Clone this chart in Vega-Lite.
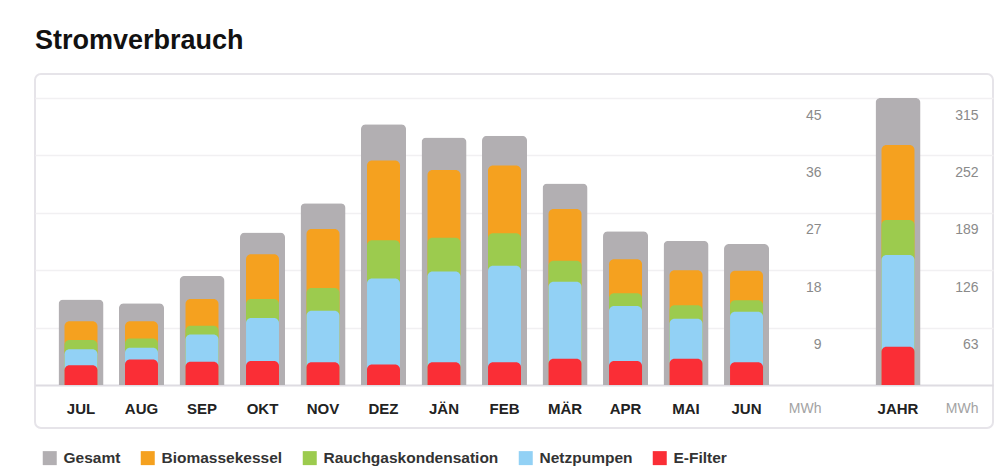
{
  "$schema": "https://vega.github.io/schema/vega-lite/v6.json",
  "width": 958,
  "height": 354,
  "autosize": {"type": "none"},
  "padding": {"left": 35, "top": 74, "right": 13, "bottom": 45},
  "background": "white",
  "config": {
    "font": "Liberation Sans",
    "view": {"stroke": "#e6e4e9", "strokeWidth": 2, "cornerRadius": 6}
  },
  "title": {
    "text": "Stromverbrauch",
    "anchor": "start",
    "frame": "group",
    "font": "Liberation Sans",
    "fontSize": 27,
    "fontWeight": "bold",
    "color": "#111111",
    "baseline": "alphabetic",
    "offset": 25,
    "dy": 27
  },
  "datasets": {
    "monate": [
      {"month": "JUL", "series": "E-Filter", "value": 3.1},
      {"month": "JUL", "series": "Netzpumpen", "value": 2.5},
      {"month": "JUL", "series": "Rauchgaskondensation", "value": 1.45},
      {"month": "JUL", "series": "Biomassekessel", "value": 2.95},
      {"month": "JUL", "series": "Gesamt", "value": 13.4},
      {"month": "AUG", "series": "E-Filter", "value": 4.0},
      {"month": "AUG", "series": "Netzpumpen", "value": 1.85},
      {"month": "AUG", "series": "Rauchgaskondensation", "value": 1.45},
      {"month": "AUG", "series": "Biomassekessel", "value": 2.7},
      {"month": "AUG", "series": "Gesamt", "value": 12.8},
      {"month": "SEP", "series": "E-Filter", "value": 3.65},
      {"month": "SEP", "series": "Netzpumpen", "value": 4.25},
      {"month": "SEP", "series": "Rauchgaskondensation", "value": 1.4},
      {"month": "SEP", "series": "Biomassekessel", "value": 4.2},
      {"month": "SEP", "series": "Gesamt", "value": 17.1},
      {"month": "OKT", "series": "E-Filter", "value": 3.75},
      {"month": "OKT", "series": "Netzpumpen", "value": 6.75},
      {"month": "OKT", "series": "Rauchgaskondensation", "value": 3.0},
      {"month": "OKT", "series": "Biomassekessel", "value": 7.0},
      {"month": "OKT", "series": "Gesamt", "value": 23.9},
      {"month": "NOV", "series": "E-Filter", "value": 3.55},
      {"month": "NOV", "series": "Netzpumpen", "value": 8.1},
      {"month": "NOV", "series": "Rauchgaskondensation", "value": 3.55},
      {"month": "NOV", "series": "Biomassekessel", "value": 9.25},
      {"month": "NOV", "series": "Gesamt", "value": 28.5},
      {"month": "DEZ", "series": "E-Filter", "value": 3.2},
      {"month": "DEZ", "series": "Netzpumpen", "value": 13.5},
      {"month": "DEZ", "series": "Rauchgaskondensation", "value": 6.0},
      {"month": "DEZ", "series": "Biomassekessel", "value": 12.5},
      {"month": "DEZ", "series": "Gesamt", "value": 40.9},
      {"month": "JÄN", "series": "E-Filter", "value": 3.55},
      {"month": "JÄN", "series": "Netzpumpen", "value": 14.25},
      {"month": "JÄN", "series": "Rauchgaskondensation", "value": 5.3},
      {"month": "JÄN", "series": "Biomassekessel", "value": 10.6},
      {"month": "JÄN", "series": "Gesamt", "value": 38.8},
      {"month": "FEB", "series": "E-Filter", "value": 3.55},
      {"month": "FEB", "series": "Netzpumpen", "value": 15.15},
      {"month": "FEB", "series": "Rauchgaskondensation", "value": 5.1},
      {"month": "FEB", "series": "Biomassekessel", "value": 10.6},
      {"month": "FEB", "series": "Gesamt", "value": 39.1},
      {"month": "MÄR", "series": "E-Filter", "value": 4.1},
      {"month": "MÄR", "series": "Netzpumpen", "value": 12.1},
      {"month": "MÄR", "series": "Rauchgaskondensation", "value": 3.3},
      {"month": "MÄR", "series": "Biomassekessel", "value": 8.1},
      {"month": "MÄR", "series": "Gesamt", "value": 31.6},
      {"month": "APR", "series": "E-Filter", "value": 3.75},
      {"month": "APR", "series": "Netzpumpen", "value": 8.65},
      {"month": "APR", "series": "Rauchgaskondensation", "value": 2.0},
      {"month": "APR", "series": "Biomassekessel", "value": 5.3},
      {"month": "APR", "series": "Gesamt", "value": 24.1},
      {"month": "MAI", "series": "E-Filter", "value": 4.1},
      {"month": "MAI", "series": "Netzpumpen", "value": 6.3},
      {"month": "MAI", "series": "Rauchgaskondensation", "value": 2.1},
      {"month": "MAI", "series": "Biomassekessel", "value": 5.5},
      {"month": "MAI", "series": "Gesamt", "value": 22.6},
      {"month": "JUN", "series": "E-Filter", "value": 3.55},
      {"month": "JUN", "series": "Netzpumpen", "value": 7.95},
      {"month": "JUN", "series": "Rauchgaskondensation", "value": 1.8},
      {"month": "JUN", "series": "Biomassekessel", "value": 4.6},
      {"month": "JUN", "series": "Gesamt", "value": 22.1}
    ],
    "jahr": [
      {"month": "JAHR", "series": "E-Filter", "value": 42},
      {"month": "JAHR", "series": "Netzpumpen", "value": 100.7},
      {"month": "JAHR", "series": "Rauchgaskondensation", "value": 38.3},
      {"month": "JAHR", "series": "Biomassekessel", "value": 82.4},
      {"month": "JAHR", "series": "Gesamt", "value": 315}
    ]
  },
  "layer": [
    {
      "data": {"name": "monate"},
      "layer": [
        {
          "transform": [{"filter": "datum.series === 'Gesamt'"}],
          "mark": {"type": "bar", "width": {"band": 0.744}, "cornerRadiusTopLeft": 5, "cornerRadiusTopRight": 5},
          "encoding": {
            "x": {
              "field": "month", "type": "nominal",
              "scale": {"domain": ["JUL","AUG","SEP","OKT","NOV","DEZ","JÄN","FEB","MÄR","APR","MAI","JUN"," ","  "], "range": [0, 958], "paddingInner": 0, "paddingOuter": 0.917, "align": 0.1419},
              "axis": {"orient": "bottom", "offset": -43, "title": null, "ticks": false, "tickSize": 0, "domain": false, "grid": false, "labelAngle": 0, "labelBaseline": "middle", "labelPadding": 23, "labelFont": "Liberation Sans", "labelFontSize": 15, "labelFontWeight": "bold", "labelColor": "#222222"}
            },
            "y": {
              "field": "value", "type": "quantitative",
              "scale": {"domain": [0, 45], "range": [311, 24], "nice": false, "zero": true},
              "axis": {
                "orient": "right", "offset": -172, "values": [0, 9, 18, 27, 36, 45],
                "labelExpr": "datum.value === 0 ? '' : datum.label",
                "labelAlign": "right", "labelBaseline": "middle", "labelOffset": 17, "labelPadding": 0,
                "ticks": false, "tickSize": 0, "domain": false,
                "labelFont": "Liberation Sans", "labelFontSize": 14, "labelColor": "#8a8a8a",
                "grid": true,
                "gridColor": {"condition": {"test": "datum.value === 0", "value": "#dedce2"}, "value": "#f1f0f2"},
                "gridWidth": {"condition": {"test": "datum.value === 0", "value": 2}, "value": 1.5},
                "title": "MWh", "titleAngle": 0, "titleX": 0, "titleY": 334, "titleAlign": "right", "titleBaseline": "middle",
                "titleFont": "Liberation Sans", "titleFontSize": 14, "titleFontWeight": "normal", "titleColor": "#a3a3a3"
              }
            },
            "color": {
              "field": "series", "type": "nominal",
              "scale": {"domain": ["Gesamt","Biomassekessel","Rauchgaskondensation","Netzpumpen","E-Filter"], "range": ["#b2afb2","#f5a11f","#9ccb4e","#92d1f5","#fa2e36"]},
              "legend": {"orient": "none", "legendX": 7, "legendY": 376, "direction": "horizontal", "title": null, "padding": 0, "symbolType": "square", "symbolSize": 196, "symbolStrokeWidth": 0, "symbolOpacity": 1, "labelFont": "Liberation Sans", "labelFontSize": 15.5, "labelFontWeight": "bold", "labelColor": "#333333", "labelOffset": 6, "labelLimit": 400, "columnPadding": 19}
            }
          }
        },
        {
          "transform": [
            {"filter": "datum.series !== 'Gesamt'"},
            {"stack": "value", "groupby": ["month"], "as": ["lo", "hi"]}
          ],
          "layer": [
            {"transform": [{"filter": "datum.series === 'Biomassekessel'"}],
             "mark": {"type": "bar", "width": {"band": 0.545}, "cornerRadiusTopLeft": 5, "cornerRadiusTopRight": 5},
             "encoding": {"x": {"field": "month", "type": "nominal"}, "y": {"field": "hi", "type": "quantitative"}, "y2": {"datum": 0}, "color": {"field": "series", "type": "nominal"}}},
            {"transform": [{"filter": "datum.series === 'Rauchgaskondensation'"}],
             "mark": {"type": "bar", "width": {"band": 0.545}, "cornerRadiusTopLeft": 5, "cornerRadiusTopRight": 5},
             "encoding": {"x": {"field": "month", "type": "nominal"}, "y": {"field": "hi", "type": "quantitative"}, "y2": {"datum": 0}, "color": {"field": "series", "type": "nominal"}}},
            {"transform": [{"filter": "datum.series === 'Netzpumpen'"}],
             "mark": {"type": "bar", "width": {"band": 0.545}, "cornerRadiusTopLeft": 5, "cornerRadiusTopRight": 5},
             "encoding": {"x": {"field": "month", "type": "nominal"}, "y": {"field": "hi", "type": "quantitative"}, "y2": {"datum": 0}, "color": {"field": "series", "type": "nominal"}}},
            {"transform": [{"filter": "datum.series === 'E-Filter'"}],
             "mark": {"type": "bar", "width": {"band": 0.545}, "cornerRadiusTopLeft": 5, "cornerRadiusTopRight": 5},
             "encoding": {"x": {"field": "month", "type": "nominal"}, "y": {"field": "hi", "type": "quantitative"}, "y2": {"datum": 0}, "color": {"field": "series", "type": "nominal"}}}
          ]
        }
      ]
    },
    {
      "data": {"name": "jahr"},
      "layer": [
        {
          "transform": [{"filter": "datum.series === 'Gesamt'"}],
          "mark": {"type": "bar", "width": {"band": 0.744}, "cornerRadiusTopLeft": 5, "cornerRadiusTopRight": 5},
          "encoding": {
            "x": {
              "field": "month", "type": "nominal",
              "scale": {"domain": ["JAHR"], "range": [832.75, 893.25], "paddingInner": 0, "paddingOuter": 0},
              "axis": {"orient": "bottom", "offset": -43, "title": null, "ticks": false, "tickSize": 0, "domain": false, "grid": false, "labelAngle": 0, "labelBaseline": "middle", "labelPadding": 23, "labelFont": "Liberation Sans", "labelFontSize": 15, "labelFontWeight": "bold", "labelColor": "#222222"}
            },
            "y": {
              "field": "value", "type": "quantitative",
              "scale": {"domain": [0, 315], "range": [311, 24], "nice": false, "zero": true},
              "axis": {
                "orient": "right", "offset": -15, "values": [0, 63, 126, 189, 252, 315],
                "labelExpr": "datum.value === 0 ? '' : datum.label",
                "labelAlign": "right", "labelBaseline": "middle", "labelOffset": 17, "labelPadding": 0,
                "ticks": false, "tickSize": 0, "domain": false,
                "labelFont": "Liberation Sans", "labelFontSize": 14, "labelColor": "#8a8a8a",
                "grid": false,
                "title": "MWh", "titleAngle": 0, "titleX": 0, "titleY": 334, "titleAlign": "right", "titleBaseline": "middle",
                "titleFont": "Liberation Sans", "titleFontSize": 14, "titleFontWeight": "normal", "titleColor": "#a3a3a3"
              }
            },
            "color": {"field": "series", "type": "nominal"}
          }
        },
        {
          "transform": [
            {"filter": "datum.series !== 'Gesamt'"},
            {"stack": "value", "groupby": ["month"], "as": ["lo", "hi"]}
          ],
          "layer": [
            {"transform": [{"filter": "datum.series === 'Biomassekessel'"}],
             "mark": {"type": "bar", "width": {"band": 0.545}, "cornerRadiusTopLeft": 5, "cornerRadiusTopRight": 5},
             "encoding": {"x": {"field": "month", "type": "nominal"}, "y": {"field": "hi", "type": "quantitative"}, "y2": {"datum": 0}, "color": {"field": "series", "type": "nominal"}}},
            {"transform": [{"filter": "datum.series === 'Rauchgaskondensation'"}],
             "mark": {"type": "bar", "width": {"band": 0.545}, "cornerRadiusTopLeft": 5, "cornerRadiusTopRight": 5},
             "encoding": {"x": {"field": "month", "type": "nominal"}, "y": {"field": "hi", "type": "quantitative"}, "y2": {"datum": 0}, "color": {"field": "series", "type": "nominal"}}},
            {"transform": [{"filter": "datum.series === 'Netzpumpen'"}],
             "mark": {"type": "bar", "width": {"band": 0.545}, "cornerRadiusTopLeft": 5, "cornerRadiusTopRight": 5},
             "encoding": {"x": {"field": "month", "type": "nominal"}, "y": {"field": "hi", "type": "quantitative"}, "y2": {"datum": 0}, "color": {"field": "series", "type": "nominal"}}},
            {"transform": [{"filter": "datum.series === 'E-Filter'"}],
             "mark": {"type": "bar", "width": {"band": 0.545}, "cornerRadiusTopLeft": 5, "cornerRadiusTopRight": 5},
             "encoding": {"x": {"field": "month", "type": "nominal"}, "y": {"field": "hi", "type": "quantitative"}, "y2": {"datum": 0}, "color": {"field": "series", "type": "nominal"}}}
          ]
        }
      ]
    }
  ],
  "resolve": {"scale": {"x": "independent", "y": "independent"}}
}
